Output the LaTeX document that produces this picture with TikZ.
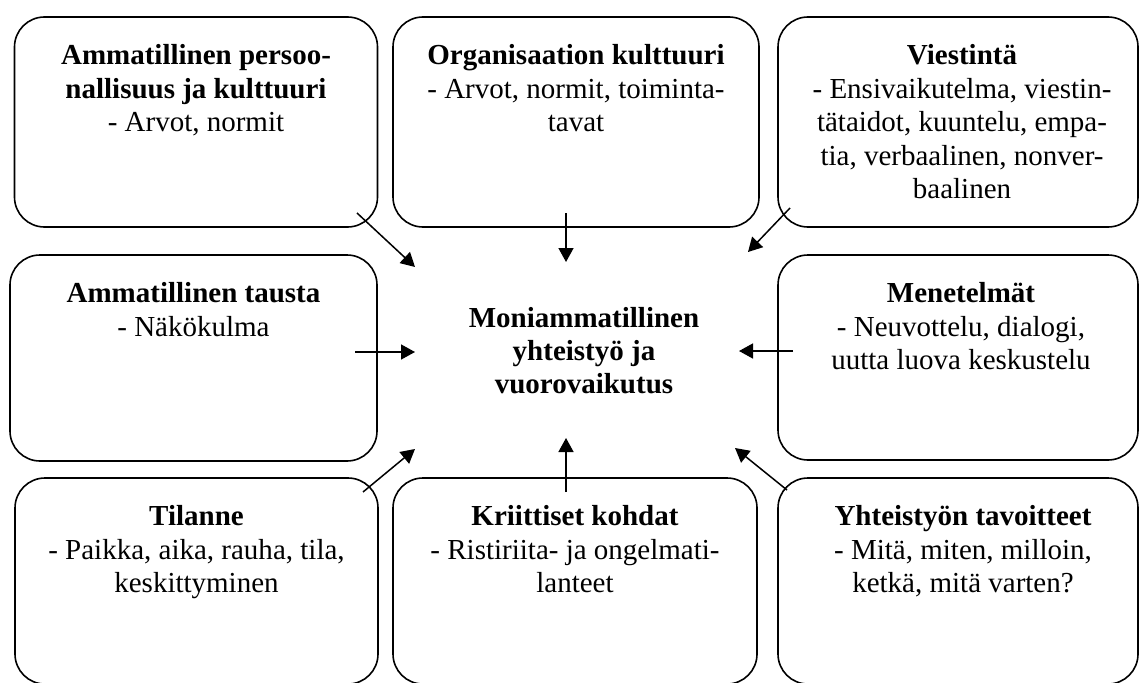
\documentclass[tikz,border=0pt]{standalone}
\usepackage{fontspec}
\setmainfont{Liberation Serif}
\usetikzlibrary{positioning,arrows.meta}

\begin{document}
\begin{tikzpicture}[x=1pt, y=-1pt,
    box/.style={draw, line width=1.6pt, rounded corners=30pt,
        minimum width=363pt, minimum height=208pt, inner sep=0pt},
    txt/.style={align=center, inner sep=0pt,
        font=\fontsize{29}{33.5}\selectfont},
    pil/.style={line width=1.5pt, -{Triangle[length=14pt, width=15pt]}}]

    \def\dt{28pt};

    \useasboundingbox (0,0) rectangle (1139,682);
    \clip (0,0) rectangle (1139,682);

% top row
    \node[box, minimum height=210pt] (pers) at (196,122) {};
    \node[box, minimum width=366pt, minimum height=210pt] (org) at (576,122) {};
    \node[box, minimum width=360pt, minimum height=210pt] (viest) at (958,122) {};

% middle row
    \node[box, minimum width=367pt, minimum height=206pt] (tausta) at (193.5,358) {};
    \node[box, minimum width=360pt, minimum height=205pt] (menet) at (958,357.5) {};

% bottom row
    \node[box, minimum height=206pt] (tilanne) at (196.5,581) {};
    \node[box, minimum width=364pt, minimum height=206pt] (krit) at (575,581) {};
    \node[box, minimum width=360pt, minimum height=206pt] (tavoit) at (958,581) {};

% texts
    \node[txt, below=\dt of pers.north] (perst) {\textbf{Ammatillinen persoo-}\\\textbf{nallisuus ja kulttuuri}\\- Arvot, normit};
    \node[txt, below=\dt of org.north] (orgt) {\textbf{Organisaation kulttuuri}\\- Arvot, normit, toiminta-\\tavat};
    \node[txt, below=\dt of viest.north, xshift=4pt] (viestt) {\textbf{Viestintä}\\- Ensivaikutelma, viestin-\\tätaidot, kuuntelu, empa-\\tia, verbaalinen, nonver-\\baalinen};
    \node[txt, below=\dt of tausta.north] (taustat) {\textbf{Ammatillinen tausta}\\- Näkökulma};
    \node[txt, below=\dt of menet.north, xshift=3pt] (menett) {\textbf{Menetelmät}\\- Neuvottelu, dialogi,\\uutta luova keskustelu};
    \node[txt, below=\dt of tilanne.north] (tilannet) {\textbf{Tilanne}\\- Paikka, aika, rauha, tila,\\keskittyminen};
    \node[txt, below=\dt of krit.north] (kritt) {\textbf{Kriittiset kohdat}\\- Ristiriita- ja ongelmati-\\lanteet};
    \node[txt, below=\dt of tavoit.north, xshift=5pt] (tavoitt) {\textbf{Yhteistyön tavoitteet}\\- Mitä, miten, milloin,\\ketkä, mitä varten?};

% center
    \node[txt, anchor=north, font=\fontsize{29}{33}\selectfont\bfseries] (keski) at (584,307) {Moniammatillinen\\yhteistyö ja\\vuorovaikutus};

% arrow ends
    \coordinate (a1) at (357,213);  \coordinate (b1) at (415,267);
    \coordinate (a2) at (566,213);  \coordinate (b2) at (566,262);
    \coordinate (a3) at (790,208);  \coordinate (b3) at (748,252);
    \coordinate (a4) at (355,352);  \coordinate (b4) at (415,352);
    \coordinate (a5) at (793,351);  \coordinate (b5) at (739,351);
    \coordinate (a6) at (363,492);  \coordinate (b6) at (415,449);
    \coordinate (a7) at (566,492);  \coordinate (b7) at (566,438);
    \coordinate (a8) at (787,490);  \coordinate (b8) at (735,448);

    \foreach \i in {1,...,8}
        \draw[pil] (a\i) -- (b\i);

\end{tikzpicture}
\end{document}
